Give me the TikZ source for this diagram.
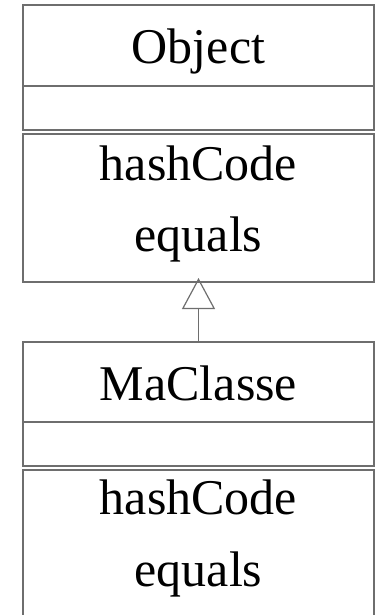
\documentclass[tikz,border=0pt]{standalone}
\usepackage{fontspec}
\setmainfont{Liberation Serif}
\usetikzlibrary{arrows.meta}
\definecolor{linec}{RGB}{110,110,110}
\begin{document}
\begin{tikzpicture}[x=1pt,y=-1pt,
  line/.style={draw=linec,line width=1.2pt},
  box/.style={line,rectangle,minimum width=351pt,inner sep=0pt,outer sep=0pt},
  lbl/.style={anchor=base,inner sep=0pt,font=\fontsize{50pt}{60pt}\selectfont}]
\useasboundingbox (0,0) rectangle (375,615);
% Object class
\node[box,minimum height=81pt] (oname) at (198.5,45.5) {};
\node[box,minimum height=44pt] (oattr) at (198.5,108) {};
\node[box,minimum height=148pt] (oops) at (198.5,208) {};
\node[lbl] (otitle) at (198.5,63.3) {Object};
\node[lbl] (ohash) at (198.5,180) {hashCode};
\node[lbl] (oeq) at (198.5,251) {equals};
% MaClasse class
\node[box,minimum height=80pt] (mname) at (198.5,382) {};
\node[box,minimum height=44pt] (mattr) at (198.5,444) {};
\coordinate (mopsbl) at (23,616);
\coordinate (mopstr) at (374,470);
\coordinate (mopsbr) at (374,616);
\draw[line] (mopsbl) |- (mopstr) -- (mopsbr);
\node[lbl] (mtitle) at (198.5,400.5) {MaClasse};
\node[lbl] (mhash) at (198.5,514) {hashCode};
\node[lbl] (meq) at (198.5,586) {equals};
% inheritance
\coordinate (apex) at (198.5,278);
\draw[line,-{Triangle[open,length=31pt,width=33pt]}] (mname.north) -- (apex);
\end{tikzpicture}
\end{document}
